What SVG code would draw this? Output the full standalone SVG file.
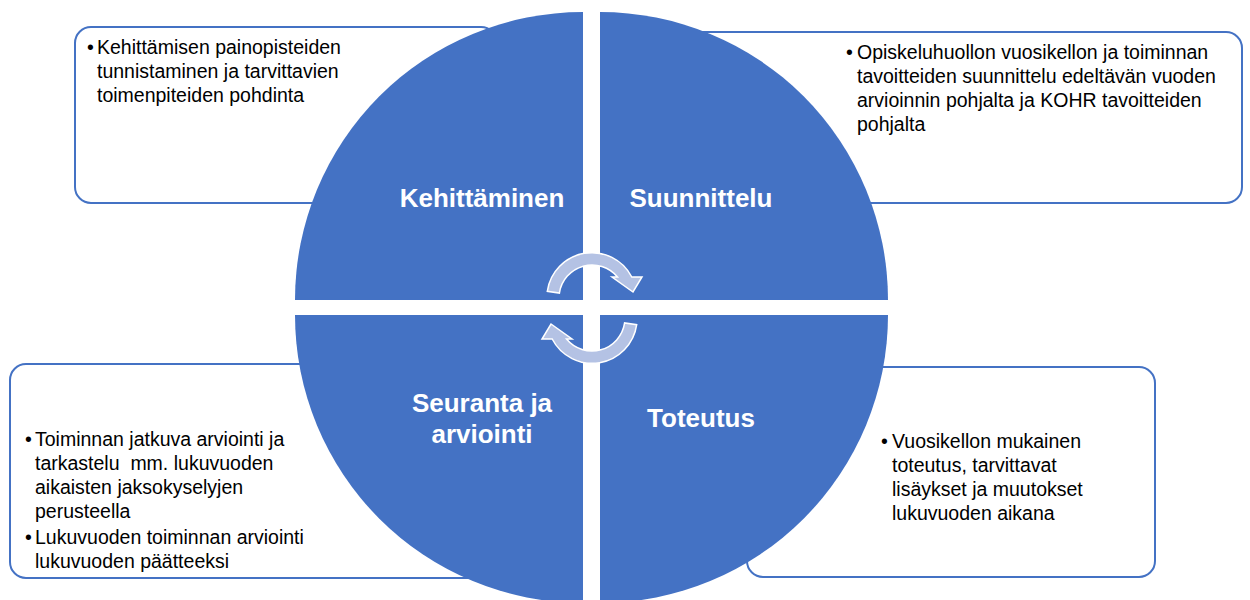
<svg xmlns="http://www.w3.org/2000/svg" width="1250" height="600" viewBox="0 0 1250 600">
<style>
.box{fill:#fff;stroke:#4472C4;stroke-width:2}
.q{fill:#4472C4}
.t{font-family:"Liberation Sans",Arial,sans-serif;font-size:19.5px;fill:#000;white-space:pre}
.lbl{font-family:"Liberation Sans",Arial,sans-serif;font-size:26px;font-weight:bold;fill:#fff;text-anchor:middle}
.arr{fill:#B4C2E4;stroke:#fff;stroke-width:1.5;stroke-linejoin:miter}
</style>
<rect width="1250" height="600" fill="#fff"/>
<g id="box-kehittaminen">
<rect class="box" x="75" y="27" width="422" height="176" rx="16"/>
<text class="t"><tspan x="87" y="54">•</tspan><tspan x="97" y="54">Kehittämisen painopisteiden</tspan><tspan x="97" y="78">tunnistaminen ja tarvittavien</tspan><tspan x="97" y="102">toimenpiteiden pohdinta</tspan></text>
</g>
<g id="box-suunnittelu">
<rect class="box" x="620" y="32" width="622" height="171" rx="16"/>
<text class="t"><tspan x="846" y="59">•</tspan><tspan x="857" y="59">Opiskeluhuollon vuosikellon ja toiminnan</tspan><tspan x="857" y="83">tavoitteiden suunnittelu edeltävän vuoden</tspan><tspan x="857" y="107">arvioinnin pohjalta ja KOHR tavoitteiden</tspan><tspan x="857" y="131">pohjalta</tspan></text>
</g>
<g id="box-seuranta">
<rect class="box" x="10" y="364" width="480" height="214" rx="16"/>
<text class="t" xml:space="preserve"><tspan x="25" y="446">•</tspan><tspan x="35" y="446">Toiminnan jatkuva arviointi ja</tspan><tspan x="35" y="470">tarkastelu  mm. lukuvuoden</tspan><tspan x="35" y="494">aikaisten jaksokyselyjen</tspan><tspan x="35" y="518">perusteella</tspan><tspan x="25" y="544">•</tspan><tspan x="35" y="544">Lukuvuoden toiminnan arviointi</tspan><tspan x="35" y="568">lukuvuoden päätteeksi</tspan></text>
</g>
<g id="box-toteutus">
<rect class="box" x="747" y="367" width="408" height="210" rx="16"/>
<text class="t"><tspan x="881" y="448">•</tspan><tspan x="892" y="448">Vuosikellon mukainen</tspan><tspan x="892" y="472">toteutus, tarvittavat</tspan><tspan x="892" y="496">lisäykset ja muutokset</tspan><tspan x="892" y="520">lukuvuoden aikana</tspan></text>
</g>
<g id="q-kehittaminen">
<path class="q" d="M583,300 L295,300 A288,288 0 0 1 583,12 Z"/>
<text class="lbl" x="482" y="207">Kehittäminen</text>
</g>
<g id="q-suunnittelu">
<path class="q" d="M600,300 L600,12 A288,288 0 0 1 888,300 Z"/>
<text class="lbl" x="701" y="207">Suunnittelu</text>
</g>
<g id="q-seuranta">
<path class="q" d="M583,315 L583,603 A288,288 0 0 1 295,315 Z"/>
<text class="lbl" x="482"><tspan x="482" y="412">Seuranta ja</tspan><tspan x="482" y="443">arviointi</tspan></text>
</g>
<g id="q-toteutus">
<path class="q" d="M600,315 L888,315 A288,288 0 0 1 600,603 Z"/>
<text class="lbl" x="701" y="427">Toteutus</text>
</g>
<g id="connectors">
<path id="arrow-top" class="arr" d="M547.3,291.3 A45,45 0 0 1 631.8,277 L642,277 L633,292 L612,277 L617.5,277 A33,33 0 0 0 559.4,293.1 Z"/>
<path id="arrow-bottom" class="arr" transform="rotate(180 592 308)" d="M547.3,291.3 A45,45 0 0 1 631.8,277 L642,277 L633,292 L612,277 L617.5,277 A33,33 0 0 0 559.4,293.1 Z"/>
</g>
</svg>
